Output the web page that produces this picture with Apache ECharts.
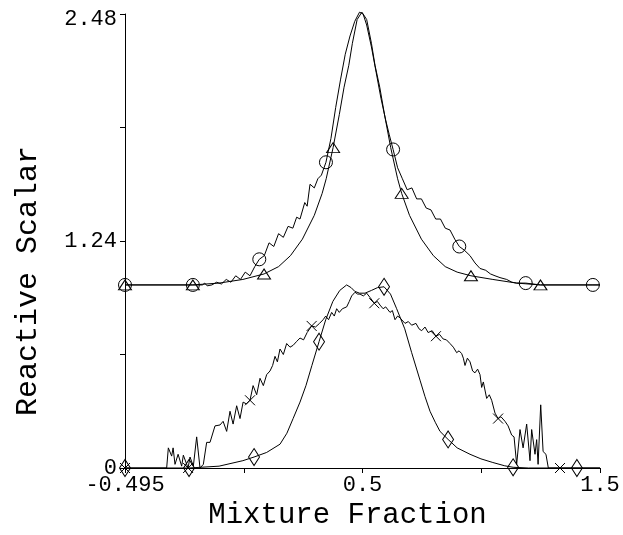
<!DOCTYPE html>
<html>
<head>
<meta charset="utf-8">
<script src="https://cdn.jsdelivr.net/npm/echarts@6/dist/echarts.min.js"></script>
<style>
  html, body { margin: 0; padding: 0; background: #fff; }
  #chart { width: 623px; height: 535px; }
</style>
</head>
<body>
<div id="chart"></div>
<script>
// Upper profiles (baseline 1.0): smooth model peak and noisy measured profile
const upperSmooth = [
  [-0.495, 1.0], [-0.21, 1.0], [-0.1, 1.01], [0.0, 1.03], [0.089, 1.06], [0.15, 1.10],
  [0.2, 1.16], [0.25, 1.25], [0.3, 1.38], [0.333, 1.50], [0.35, 1.58], [0.379, 1.75],
  [0.405, 1.93], [0.425, 2.08], [0.445, 2.20], [0.46, 2.32], [0.48, 2.45], [0.5, 2.49],
  [0.52, 2.45], [0.54, 2.32], [0.555, 2.20], [0.575, 2.08], [0.595, 1.93], [0.621, 1.75],
  [0.65, 1.58], [0.667, 1.50], [0.7, 1.38], [0.75, 1.25], [0.8, 1.16], [0.85, 1.10],
  [0.9, 1.07], [0.958, 1.05], [1.05, 1.03], [1.15, 1.01], [1.25, 1.0], [1.5, 1.0]
];
const upperSmoothMarks = [-0.495, -0.21, 0.089, 0.379, 0.667, 0.958, 1.25];

const upperNoisy = [
  [-0.495, 1.0], [-0.21, 1.0], [-0.17, 1.0], [-0.16, 1.01], [-0.15, 0.995], [-0.13, 1.0],
  [-0.11, 1.015], [-0.09, 1.005], [-0.07, 1.03], [-0.05, 1.015], [-0.03, 1.05], [-0.01, 1.03],
  [0.01, 1.07], [0.03, 1.05], [0.05, 1.10], [0.069, 1.14], [0.09, 1.16], [0.11, 1.23],
  [0.13, 1.21], [0.15, 1.28], [0.17, 1.26], [0.19, 1.32], [0.21, 1.31], [0.226, 1.37],
  [0.24, 1.36], [0.26, 1.45], [0.27, 1.43], [0.282, 1.55], [0.30, 1.53], [0.315, 1.58],
  [0.33, 1.60], [0.349, 1.67], [0.37, 1.80], [0.39, 1.97], [0.41, 2.12], [0.43, 2.26],
  [0.45, 2.36], [0.47, 2.44], [0.49, 2.49], [0.505, 2.48], [0.52, 2.42], [0.54, 2.30],
  [0.56, 2.16], [0.58, 2.02], [0.60, 1.90], [0.615, 1.82], [0.631, 1.74], [0.65, 1.64],
  [0.67, 1.58], [0.69, 1.52], [0.71, 1.53], [0.73, 1.47], [0.75, 1.47], [0.77, 1.42],
  [0.79, 1.41], [0.81, 1.36], [0.83, 1.36], [0.85, 1.31], [0.87, 1.30], [0.89, 1.25],
  [0.909, 1.21], [0.93, 1.19], [0.954, 1.16], [0.975, 1.12], [0.996, 1.09], [1.02, 1.08],
  [1.04, 1.06], [1.059, 1.05], [1.08, 1.04], [1.108, 1.03], [1.13, 1.015], [1.15, 1.01],
  [1.188, 1.01], [1.25, 1.0], [1.47, 1.0], [1.5, 1.0]
];
const upperNoisyMarks = [-0.495, -0.21, 0.069, 0.349, 0.631, 0.909, 1.188, 1.47];

// Lower profiles (baseline 0): smooth double-humped model and noisy measured profile
const lowerSmooth = [
  [-0.495, 0.0], [-0.226, 0.0], [-0.1, 0.01], [0.0, 0.04], [0.047, 0.06], [0.1, 0.085],
  [0.156, 0.13], [0.185, 0.19], [0.211, 0.27], [0.24, 0.36], [0.265, 0.45], [0.29, 0.56],
  [0.32, 0.69], [0.348, 0.81], [0.378, 0.91], [0.407, 0.97], [0.436, 1.0], [0.455, 0.985],
  [0.47, 0.965], [0.49, 0.955], [0.513, 0.955], [0.54, 0.97], [0.565, 0.985], [0.593, 0.99],
  [0.62, 0.95], [0.646, 0.87], [0.68, 0.76], [0.709, 0.63], [0.744, 0.48], [0.765, 0.39],
  [0.786, 0.31], [0.808, 0.25], [0.828, 0.20], [0.862, 0.156], [0.9, 0.11], [0.954, 0.075],
  [1.0, 0.05], [1.05, 0.03], [1.1, 0.012], [1.135, 0.004], [1.2, 0.0], [1.403, 0.0], [1.5, 0.0]
];
const lowerSmoothMarks = [-0.495, -0.226, 0.047, 0.32, 0.593, 0.862, 1.135, 1.403];

const lowerNoisy = [
  [-0.495, 0.0], [-0.32, 0.0], [-0.313, 0.11], [-0.299, 0.065], [-0.293, 0.11], [-0.285, 0.02],
  [-0.272, 0.075], [-0.257, 0.01], [-0.25, 0.07], [-0.23, 0.0], [-0.222, 0.06], [-0.208, 0.01],
  [-0.194, 0.17], [-0.18, 0.0], [-0.166, 0.02], [-0.152, 0.14], [-0.138, 0.14], [-0.117, 0.23],
  [-0.096, 0.235], [-0.083, 0.255], [-0.068, 0.20], [-0.054, 0.31], [-0.041, 0.24], [-0.026, 0.34],
  [-0.012, 0.27], [0.001, 0.36], [0.015, 0.35], [0.030, 0.37], [0.043, 0.45], [0.058, 0.40],
  [0.072, 0.49], [0.086, 0.45], [0.100, 0.51], [0.114, 0.53], [0.125, 0.56], [0.135, 0.61],
  [0.145, 0.58], [0.156, 0.65], [0.170, 0.62], [0.184, 0.68], [0.198, 0.66], [0.211, 0.67],
  [0.225, 0.69], [0.240, 0.71], [0.255, 0.70], [0.270, 0.74], [0.289, 0.776], [0.305, 0.77],
  [0.322, 0.79], [0.337, 0.81], [0.348, 0.83], [0.360, 0.81], [0.373, 0.85], [0.384, 0.83],
  [0.394, 0.87], [0.405, 0.85], [0.418, 0.87], [0.436, 0.88], [0.447, 0.91], [0.457, 0.94],
  [0.471, 0.96], [0.482, 0.95], [0.492, 0.95], [0.506, 0.94], [0.520, 0.955], [0.535, 0.93],
  [0.552, 0.90], [0.565, 0.91], [0.576, 0.89], [0.589, 0.87], [0.600, 0.88], [0.618, 0.85],
  [0.628, 0.86], [0.639, 0.81], [0.650, 0.83], [0.660, 0.82], [0.681, 0.79], [0.695, 0.80],
  [0.709, 0.78], [0.727, 0.79], [0.740, 0.76], [0.751, 0.75], [0.765, 0.77], [0.778, 0.74],
  [0.795, 0.75], [0.811, 0.72], [0.826, 0.73], [0.841, 0.705], [0.855, 0.70], [0.870, 0.68],
  [0.884, 0.66], [0.898, 0.63], [0.908, 0.64], [0.919, 0.625], [0.926, 0.60], [0.933, 0.56],
  [0.943, 0.60], [0.954, 0.58], [0.965, 0.53], [0.975, 0.52], [0.986, 0.54], [0.996, 0.51],
  [1.003, 0.44], [1.010, 0.47], [1.024, 0.38], [1.035, 0.40], [1.045, 0.37], [1.059, 0.30],
  [1.072, 0.27], [1.084, 0.28], [1.101, 0.255], [1.114, 0.23], [1.129, 0.18], [1.139, 0.17],
  [1.150, 0.02], [1.164, 0.21], [1.177, 0.11], [1.192, 0.24], [1.206, 0.04], [1.213, 0.21],
  [1.227, 0.075], [1.234, 0.155], [1.240, 0.02], [1.251, 0.345], [1.261, 0.09], [1.273, 0.075],
  [1.283, 0.0], [1.332, 0.0], [1.5, 0.0]
];
const lowerNoisyMarks = [-0.495, -0.23, 0.030, 0.289, 0.552, 0.811, 1.072, 1.332];

// Axis ticks and labels
const xTickValues = [-0.495, 0.00375, 0.5025, 1.00125, 1.5];
const xLabelValues = [-0.495, 0.5025, 1.5];
const xLabelTexts = ['-0.495', '0.5', '1.5'];
const yLabelTexts = ['0', '1.24', '2.48'];

const FONT = "'Courier New', 'Liberation Mono', monospace";
const INK = '#000';

const crossPath = 'path://M0,0L10,10M0,10L10,0';

function lineSeries(points, marks, symbol, size) {
  return {
    type: 'line',
    data: points.map(p => marks.some(m => Math.abs(m - p[0]) < 1e-9)
      ? { value: p, symbol: symbol, symbolSize: size }
      : { value: p, symbol: 'none' }),
    showSymbol: true,
    showAllSymbol: true,
    smooth: false,
    animation: false,
    silent: true,
    clip: false,
    lineStyle: { color: INK, width: 1 },
    itemStyle: { color: 'none', borderColor: INK, borderWidth: 1 },
    emphasis: { disabled: true },
    z: 3
  };
}

const chart = echarts.init(document.getElementById('chart'), null, { renderer: 'canvas' });

chart.setOption({
  backgroundColor: '#fff',
  animation: false,
  grid: { left: 125, right: 23, top: 14, bottom: 61, containLabel: false },
  xAxis: {
    type: 'value',
    min: -0.495,
    max: 1.5,
    name: 'Mixture Fraction',
    nameLocation: 'middle',
    nameGap: 33,
    nameTextStyle: { fontFamily: FONT, fontSize: 29, color: INK, padding: [0, 30, 0, 0] },
    axisLine: { show: true, onZero: false, lineStyle: { color: INK, width: 1 } },
    axisTick: { show: true, inside: false, length: 5, lineStyle: { color: INK }, customValues: xTickValues },
    axisLabel: {
      show: true,
      margin: 6,
      fontFamily: FONT,
      fontSize: 22,
      color: INK,
      customValues: xLabelValues,
      formatter: function (v) {
        for (let i = 0; i < xLabelValues.length; i++) {
          if (Math.abs(v - xLabelValues[i]) < 1e-6) return xLabelTexts[i];
        }
        return '';
      }
    },
    splitLine: { show: false }
  },
  yAxis: {
    type: 'value',
    min: 0,
    max: 2.48,
    interval: 0.62,
    name: 'Reactive Scalar',
    nameLocation: 'middle',
    nameGap: 82,
    nameTextStyle: { fontFamily: FONT, fontSize: 30, color: INK, padding: [0, 80, 0, 0] },
    axisLine: { show: true, onZero: false, lineStyle: { color: INK, width: 1 } },
    axisTick: { show: true, inside: false, length: 5, lineStyle: { color: INK } },
    axisLabel: {
      show: true,
      margin: 8,
      fontFamily: FONT,
      fontSize: 22,
      color: INK,
      formatter: function (v) {
        if (Math.abs(v) < 1e-6) return '{bot|' + yLabelTexts[0] + '}';
        if (Math.abs(v - 1.24) < 1e-6) return '{mid|' + yLabelTexts[1] + '}';
        if (Math.abs(v - 2.48) < 1e-6) return '{top|' + yLabelTexts[2] + '}';
        return '';
      },
      rich: {
        bot: { fontFamily: FONT, fontSize: 22, color: INK, padding: [0, 0, 0, 0] },
        mid: { fontFamily: FONT, fontSize: 22, color: INK },
        top: { fontFamily: FONT, fontSize: 22, color: INK, padding: [10, 0, 0, 0] }
      }
    },
    splitLine: { show: false }
  },
  series: [
    lineSeries(upperSmooth, upperSmoothMarks, 'triangle', [13, 10]),
    lineSeries(upperNoisy, upperNoisyMarks, 'circle', 13),
    lineSeries(lowerSmooth, lowerSmoothMarks, 'diamond', [11, 17]),
    lineSeries(lowerNoisy, lowerNoisyMarks, crossPath, 10)
  ]
});
</script>
</body>
</html>
